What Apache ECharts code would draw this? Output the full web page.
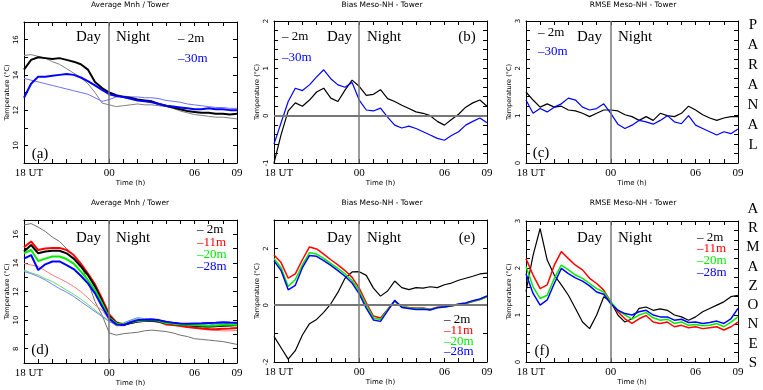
<!DOCTYPE html>
<html>
<head>
<meta charset="utf-8">
<script src="https://cdn.jsdelivr.net/npm/echarts@6/dist/echarts.min.js"></script>
<style>
  html, body { margin: 0; padding: 0; background: #fff; }
  #chart { width: 763px; height: 390px; }
</style>
</head>
<body>
<div id="chart"></div>
<script>
// time in hours after 18 UT (24 = 00 UT, 33 = 09 UT)
const hours = [18, 18.5, 19, 19.5, 20, 20.5, 21, 21.5, 22, 22.5, 23, 23.5, 24, 24.5, 25, 25.5,
  26, 26.5, 27, 27.5, 28, 28.5, 29, 29.5, 30, 30.5, 31, 31.5, 32, 32.5, 33];
const xTickLabels = { 18: '{u|18 UT}', 24: '00', 30: '06', 33: '09' };

// Paranal (a) average temperatures
const parMnh2 = [14.3, 14.85, 15.0, 14.95, 14.9, 14.95, 14.85, 14.75, 14.6, 14.3, 13.6, 13.25, 13.0, 12.85, 12.75, 12.7,
  12.6, 12.55, 12.5, 12.35, 12.25, 12.15, 12.05, 11.95, 11.9, 11.85, 11.85, 11.8, 11.8, 11.75, 11.8];
const parTow2 = [15.1, 15.15, 15.05, 14.95, 14.75, 14.6, 14.35, 14.1, 13.85, 13.5, 13.0, 12.4, 12.3, 12.2, 12.25, 12.3,
  12.35, 12.3, 12.3, 12.25, 12.2, 12.1, 11.95, 11.85, 11.75, 11.7, 11.65, 11.6, 11.6, 11.55, 11.5];
const parMnh30 = [12.7, 13.5, 13.9, 13.9, 13.95, 14.0, 14.05, 14.0, 13.85, 13.65, 13.4, 13.15, 12.9, 12.8, 12.75, 12.65,
  12.55, 12.5, 12.45, 12.35, 12.25, 12.2, 12.15, 12.1, 12.05, 12.05, 12.1, 12.05, 12.05, 12.0, 12.0];
const parTow30 = [13.8, 13.7, 13.6, 13.5, 13.4, 13.3, 13.2, 13.1, 13.0, 12.9, 12.7, 12.5, 12.6, 12.75, 12.8, 12.75,
  12.75, 12.7, 12.7, 12.65, 12.55, 12.5, 12.45, 12.35, 12.3, 12.25, 12.2, 12.15, 12.15, 12.1, 12.1];
// Paranal (b) bias, (c) rmse
const parBias2 = [-1.0, -0.4, 0.1, 0.27, 0.2, 0.33, 0.5, 0.58, 0.37, 0.3, 0.54, 0.75, 0.62, 0.43, 0.45, 0.55,
  0.36, 0.3, 0.22, 0.15, 0.08, 0.05, 0.0, -0.12, -0.2, -0.08, 0.03, 0.18, 0.27, 0.33, 0.2];
const parBias30 = [-0.6, -0.15, 0.3, 0.58, 0.53, 0.65, 0.82, 0.97, 0.78, 0.65, 0.6, 0.7, 0.33, 0.12, 0.1, 0.16,
  -0.03, -0.2, -0.26, -0.22, -0.27, -0.34, -0.41, -0.48, -0.52, -0.42, -0.34, -0.2, -0.12, -0.05, -0.15];
const parRmse2 = [1.5, 1.33, 1.18, 1.25, 1.18, 1.2, 1.12, 1.1, 1.05, 0.98, 1.05, 1.12, 1.12, 1.1, 1.02, 0.98,
  0.9, 0.98, 0.9, 1.05, 1.0, 0.98, 1.05, 1.2, 1.12, 1.02, 0.95, 0.9, 0.95, 0.98, 0.98];
const parRmse30 = [1.33, 1.05, 1.15, 1.08, 1.18, 1.25, 1.37, 1.33, 1.18, 1.12, 1.15, 1.25, 1.05, 0.82, 0.73, 0.8,
  0.9, 0.87, 0.82, 0.9, 1.0, 0.87, 0.83, 1.0, 0.8, 0.73, 0.66, 0.59, 0.66, 0.62, 0.72];

// Armazones (d) average temperatures, model (thick) and tower (thin)
const armMnh2 = [14.8, 15.25, 14.67, 14.8, 14.85, 14.85, 14.67, 14.3, 13.75, 13.15, 12.35, 11.3, 10.25, 9.8, 9.65, 9.8,
  9.9, 9.95, 9.95, 9.9, 9.8, 9.75, 9.7, 9.65, 9.6, 9.57, 9.55, 9.57, 9.6, 9.62, 9.65];
const armMnh11 = [15.1, 15.5, 14.9, 15.0, 15.05, 15.05, 14.9, 14.55, 13.95, 13.25, 12.5, 11.5, 10.4, 9.85, 9.7, 9.8,
  9.9, 9.93, 9.95, 9.9, 9.7, 9.65, 9.6, 9.52, 9.47, 9.42, 9.38, 9.36, 9.4, 9.42, 9.45];
const armMnh20 = [14.67, 14.9, 14.13, 14.3, 14.45, 14.45, 14.27, 13.95, 13.4, 12.8, 12.1, 11.17, 10.17, 9.77, 9.7, 9.85,
  9.93, 9.98, 10.0, 9.95, 9.8, 9.75, 9.7, 9.68, 9.65, 9.63, 9.6, 9.62, 9.67, 9.67, 9.67];
const armMnh28 = [14.3, 14.55, 13.5, 13.9, 14.1, 14.1, 13.85, 13.57, 13.1, 12.57, 11.87, 10.95, 10.1, 9.7, 9.65, 9.85,
  10.0, 10.02, 10.05, 10.0, 9.88, 9.82, 9.77, 9.75, 9.77, 9.78, 9.8, 9.82, 9.85, 9.83, 9.82];
const armTow2 = [16.65, 16.75, 16.5, 16.2, 15.8, 15.5, 15.0, 14.55, 13.85, 12.7, 11.3, 10.35, 9.1, 8.95, 9.05, 9.1,
  9.15, 9.25, 9.3, 9.25, 9.2, 9.1, 8.95, 8.85, 8.7, 8.65, 8.6, 8.55, 8.5, 8.4, 8.3];
const armTow11 = [13.97, 13.85, 13.75, 13.45, 13.15, 12.9, 12.65, 12.35, 12.0, 11.55, 11.05, 10.7, 10.0, 9.6, 9.6, 9.8,
  9.9, 9.9, 9.9, 9.85, 9.75, 9.65, 9.55, 9.5, 9.45, 9.38, 9.3, 9.28, 9.25, 9.25, 9.27];
const armTow20 = [13.5, 13.3, 13.15, 12.9, 12.7, 12.4, 12.1, 11.8, 11.47, 11.1, 10.7, 10.3, 9.93, 9.6, 9.7, 9.95,
  10.1, 10.05, 10.05, 9.95, 9.8, 9.72, 9.65, 9.6, 9.55, 9.52, 9.5, 9.55, 9.6, 9.6, 9.6];
const armTow28 = [13.4, 13.25, 13.05, 12.8, 12.5, 12.2, 11.95, 11.65, 11.3, 10.95, 10.6, 10.25, 9.9, 9.7, 9.8, 10.0,
  10.17, 10.1, 10.1, 10.0, 9.9, 9.82, 9.75, 9.72, 9.7, 9.68, 9.65, 9.72, 9.8, 9.75, 9.75];
// Armazones (e) bias
const armBias2 = [-1.1, -1.5, -1.9, -1.6, -1.05, -0.65, -0.5, -0.25, 0.05, 0.45, 0.95, 1.17, 1.18, 1.05, 0.6, 0.32,
  0.5, 0.85, 0.62, 0.55, 0.62, 0.6, 0.65, 0.62, 0.72, 0.78, 0.88, 0.95, 1.02, 1.1, 1.13];
const armBias11 = [1.77, 1.5, 0.95, 1.1, 1.6, 2.05, 1.98, 1.8, 1.6, 1.42, 1.22, 0.98, 0.6, 0.08, -0.38, -0.45,
  -0.15, 0.15, -0.05, -0.08, -0.1, -0.1, -0.14, -0.07, -0.05, -0.03, 0.02, 0.06, 0.13, 0.2, 0.3];
const armBias20 = [1.65, 1.32, 0.66, 0.9, 1.42, 1.85, 1.8, 1.65, 1.47, 1.3, 1.1, 0.87, 0.5, 0.0, -0.45, -0.5,
  -0.17, 0.15, -0.05, -0.1, -0.12, -0.12, -0.15, -0.08, -0.06, -0.03, 0.03, 0.07, 0.14, 0.2, 0.3];
const armBias28 = [1.56, 1.22, 0.54, 0.7, 1.32, 1.75, 1.72, 1.57, 1.4, 1.22, 1.02, 0.78, 0.4, -0.1, -0.52, -0.57,
  -0.2, 0.17, -0.08, -0.12, -0.15, -0.14, -0.17, -0.09, -0.06, -0.02, 0.04, 0.08, 0.16, 0.22, 0.33];
// Armazones (f) rmse
const armRmse2 = [1.5, 2.27, 2.84, 2.17, 1.85, 1.64, 1.42, 1.14, 0.85, 0.71, 1.0, 1.39, 1.28, 1.0, 0.85, 0.92,
  1.14, 1.17, 1.1, 1.13, 1.1, 1.0, 0.96, 0.89, 0.96, 1.07, 1.14, 1.21, 1.28, 1.39, 1.42];
const armRmse11 = [2.2, 1.85, 1.56, 1.64, 2.06, 2.35, 2.2, 2.06, 1.96, 1.78, 1.67, 1.53, 1.28, 1.07, 0.92, 0.82,
  0.92, 0.99, 0.85, 0.82, 0.85, 0.75, 0.78, 0.73, 0.75, 0.71, 0.73, 0.75, 0.68, 0.75, 0.85];
const armRmse20 = [2.03, 1.6, 1.35, 1.42, 1.78, 2.06, 1.96, 1.85, 1.78, 1.67, 1.56, 1.49, 1.28, 1.1, 1.0, 0.91,
  1.0, 1.05, 0.94, 0.89, 0.91, 0.82, 0.85, 0.78, 0.8, 0.77, 0.78, 0.82, 0.75, 0.85, 0.96];
const armRmse28 = [1.88, 1.46, 1.21, 1.32, 1.67, 1.99, 1.88, 1.79, 1.72, 1.62, 1.49, 1.44, 1.24, 1.1, 1.03, 1.0,
  1.07, 1.1, 1.0, 0.96, 0.96, 0.89, 0.91, 0.84, 0.85, 0.82, 0.84, 0.87, 0.82, 0.92, 1.14];

const serif = '"Liberation Serif", "DejaVu Serif", serif';
const sans = '"DejaVu Sans", sans-serif';

const grids = [
  { left: 24, top: 22, width: 213, height: 141 },
  { left: 274, top: 21, width: 213, height: 142 },
  { left: 526, top: 21, width: 212, height: 142 },
  { left: 24, top: 220, width: 213, height: 143 },
  { left: 274, top: 220, width: 213, height: 142 },
  { left: 526, top: 221, width: 212, height: 141 }
];
// y scales: min, max, tick interval, labelled values
const yScales = [
  [9, 17, 1, [10, 12, 14, 16]],
  [-1, 2, 0.2, [-1, 0, 1, 2]],
  [0, 3, 0.2, [0, 1, 2, 3]],
  [7, 17, 1, [8, 10, 12, 14, 16]],
  [-2, 3, 1, [-2, 0, 2]],
  [0, 3, 0.2, [0, 1, 2, 3]]
];

const xAxes = [];
const yAxes = [];
grids.forEach((g, i) => {
  xAxes[i] = {
    type: 'value', gridIndex: i, min: 18, max: 33, interval: 1,
    axisLine: { show: true, onZero: false, lineStyle: { color: '#000', width: 1 } },
    axisTick: { show: true, inside: true, length: 4, lineStyle: { color: '#000' } },
    splitLine: { show: false },
    axisLabel: {
      color: '#000', fontFamily: serif, fontSize: 11, margin: 5,
      formatter: v => xTickLabels[Math.round(v)] && Math.abs(v - Math.round(v)) < 1e-6 ? xTickLabels[Math.round(v)] : '',
      rich: { u: { fontFamily: serif, fontSize: 11, color: '#000', padding: [0, 0, 0, 10] } }
    },
    name: 'Time (h)', nameLocation: 'middle', nameGap: 17,
    nameTextStyle: { fontFamily: sans, fontSize: 7, color: '#000' }
  };
  xAxes[i + 6] = {
    type: 'value', gridIndex: i, position: 'top', min: 18, max: 33, interval: 1,
    axisLine: { show: true, onZero: false, lineStyle: { color: '#000', width: 1 } },
    axisTick: { show: true, inside: true, length: 4, lineStyle: { color: '#000' } },
    splitLine: { show: false }, axisLabel: { show: false }
  };
  const [mn, mx, iv, labs] = yScales[i];
  yAxes[i] = {
    type: 'value', gridIndex: i, min: mn, max: mx, interval: iv,
    axisLine: { show: true, onZero: false, lineStyle: { color: '#000', width: 1 } },
    axisTick: { show: true, inside: true, length: 4, lineStyle: { color: '#000' } },
    splitLine: { show: false },
    axisLabel: {
      rotate: 90, color: '#000', fontFamily: sans, fontSize: 7, margin: 4,
      formatter: v => {
        const r = Math.round(v);
        return Math.abs(v - r) < 1e-6 && labs.includes(r) ? String(r) : '';
      }
    },
    name: 'Temperature (\u00b0C)', nameLocation: 'middle', nameGap: 13,
    nameTextStyle: { fontFamily: sans, fontSize: 6.5, color: '#000' }
  };
  yAxes[i + 6] = {
    type: 'value', gridIndex: i, position: 'right', min: mn, max: mx, interval: iv,
    axisLine: { show: true, onZero: false, lineStyle: { color: '#000', width: 1 } },
    axisTick: { show: true, inside: true, length: 4, lineStyle: { color: '#000' } },
    splitLine: { show: false }, axisLabel: { show: false }
  };
});

function ln(g, vals, color, width) {
  return {
    type: 'line', xAxisIndex: g, yAxisIndex: g, silent: true,
    symbol: 'none', showSymbol: false,
    data: hours.map((h, k) => [h, vals[k]]),
    lineStyle: { color: color, width: width }
  };
}
function guides(s, withZero) {
  const d = [{ xAxis: 24 }];
  if (withZero) d.push({ yAxis: 0, lineStyle: { color: '#777', width: 2 } });
  s.markLine = {
    symbol: 'none', silent: true, animation: false, label: { show: false },
    lineStyle: { color: '#777', width: 1.5, type: 'solid' }, data: d
  };
  return s;
}

const series = [
  guides(ln(0, parTow2, '#808080', 1), false),
  ln(0, parTow30, '#6f6fff', 1),
  ln(0, parMnh2, '#000', 2),
  ln(0, parMnh30, '#0000ff', 2),

  guides(ln(1, parBias2, '#000', 1.2), true),
  ln(1, parBias30, '#0000ff', 1.2),

  guides(ln(2, parRmse2, '#000', 1.2), false),
  ln(2, parRmse30, '#0000ff', 1.2),

  guides(ln(3, armTow2, '#707070', 1), false),
  ln(3, armTow11, '#ff7a7a', 1),
  ln(3, armTow20, '#66dd66', 1),
  ln(3, armTow28, '#6f7fff', 1),
  ln(3, armMnh11, '#ff0000', 2),
  ln(3, armMnh2, '#000', 2),
  ln(3, armMnh20, '#00ee00', 2),
  ln(3, armMnh28, '#0000ff', 2),

  guides(ln(4, armBias2, '#000', 1.2), true),
  ln(4, armBias11, '#ff0000', 1.5),
  ln(4, armBias20, '#00ee00', 1.5),
  ln(4, armBias28, '#0000ff', 1.5),

  guides(ln(5, armRmse2, '#000', 1.2), false),
  ln(5, armRmse11, '#ff0000', 1.5),
  ln(5, armRmse20, '#00ee00', 1.5),
  ln(5, armRmse28, '#0000ff', 1.5)
];

function txt(s, x, y, font, fill, align) {
  return {
    type: 'text', x: x, y: y, silent: true, z: 100,
    style: { text: s, font: font, fill: fill || '#000', align: align || 'center', verticalAlign: 'middle',
      textAlign: align || 'center', textVerticalAlign: 'middle' }
  };
}
const big = '15px ' + serif;
const leg = '13px ' + serif;
const small = '7.5px ' + sans;
const graphics = [
  txt('Average Mnh / Tower', 130, 5, small), txt('Bias Meso-NH - Tower', 382, 5, small),
  txt('RMSE Meso-NH - Tower', 633, 5, small), txt('Average Mnh / Tower', 130, 203, small),
  txt('Bias Meso-NH - Tower', 382, 203, small), txt('RMSE Meso-NH - Tower', 633, 203, small)
];
[[101, 116, 37], [352, 367, 37], [602, 618, 37], [101, 116, 238], [352, 367, 238], [602, 618, 238]].forEach(p => {
  graphics.push(txt('Day', p[0], p[2], big, '#000', 'right'));
  graphics.push(txt('Night', p[1], p[2], big, '#000', 'left'));
});
graphics.push(
  txt('(a)', 40, 154, big), txt('(b)', 467, 37, big), txt('(c)', 541, 153, big),
  txt('(d)', 40, 350, big), txt('(e)', 467, 238, big), txt('(f)', 542, 351, big),
  txt('\u2013 2m', 178, 39, leg, '#000', 'left'), txt('\u201330m', 178, 59, leg, '#0000ff', 'left'),
  txt('\u2013 2m', 282, 37, leg, '#000', 'left'), txt('\u201330m', 282, 58, leg, '#0000ff', 'left'),
  txt('\u2013 2m', 538, 33, leg, '#000', 'left'), txt('\u201330m', 538, 52, leg, '#0000ff', 'left')
);
const legColors = ['#000', '#ff0000', '#00ee00', '#0000ff'];
const legNames = ['\u2013 2m', '\u201311m', '\u201320m', '\u201328m'];
[[197, [230, 243, 255, 267]], [444, [320, 331, 342, 352]], [697, [238, 249, 261, 273]]].forEach(p => {
  legNames.forEach((n, k) => graphics.push(txt(n, p[0], p[1][k], leg, legColors[k], 'left')));
});
'PARANAL'.split('').forEach((c, k) => graphics.push(txt(c, 753, 25 + k * 20, big)));
'ARMAZONES'.split('').forEach((c, k) => graphics.push(txt(c, 753, 209 + k * 19.25, big)));

const chart = echarts.init(document.getElementById('chart'));
chart.setOption({
  animation: false,
  backgroundColor: '#fff',
  grid: grids,
  xAxis: xAxes,
  yAxis: yAxes,
  series: series,
  graphic: graphics
});
</script>
</body>
</html>
